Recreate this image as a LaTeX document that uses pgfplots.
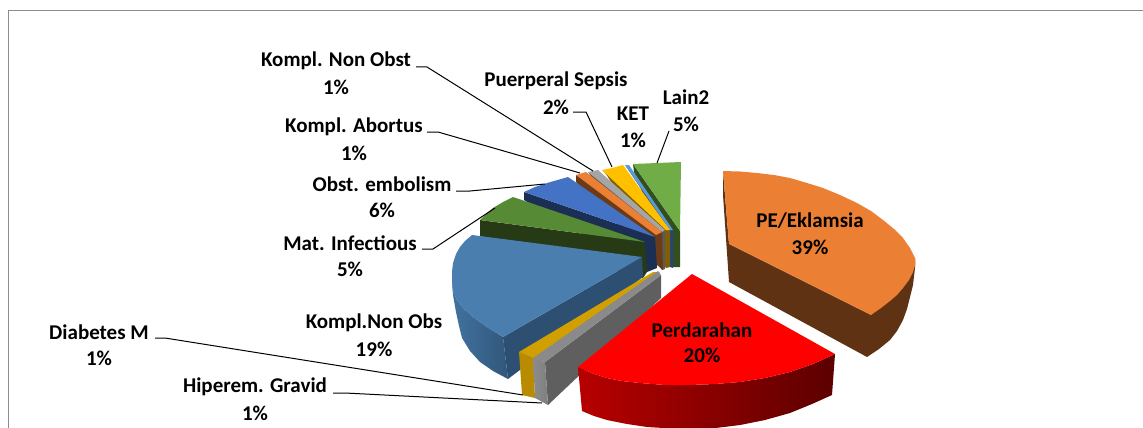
\documentclass[border=0pt]{standalone}
\usepackage{fontspec}
\setmainfont{Carlito}
\usepackage{pgfplots}
\pgfplotsset{compat=1.18}
\definecolor{peT}{HTML}{EB7F34}\definecolor{peS}{HTML}{5F3214}
\definecolor{grT}{HTML}{8A8A8A}\definecolor{grS}{HTML}{5F5F5F}\definecolor{grF}{HTML}{7F7F7F}
\definecolor{goT}{HTML}{D29F00}\definecolor{goF}{HTML}{B98B00}
\definecolor{blT}{HTML}{4A7EAE}\definecolor{blS}{HTML}{2D5072}\definecolor{blL}{HTML}{4272A0}
\definecolor{maT}{HTML}{568A35}\definecolor{maS}{HTML}{263A16}
\definecolor{obT}{HTML}{4472C4}\definecolor{obS}{HTML}{1B2F55}
\definecolor{abS}{HTML}{6B3A17}
\definecolor{nnT}{HTML}{A5A5A5}\definecolor{nnS}{HTML}{5A5A5A}
\definecolor{puT}{HTML}{FFC000}\definecolor{puS}{HTML}{7F6000}
\definecolor{keT}{HTML}{5B9BD5}\definecolor{keS}{HTML}{264478}
\definecolor{laT}{HTML}{70AD47}\definecolor{laS}{HTML}{334F20}
\definecolor{frameC}{HTML}{8C8C8C}
\newcommand\lab[3]{\node[font=\fontsize{21}{25}\selectfont\bfseries,align=center,inner sep=0pt] at (axis cs:#1,#2) {#3};}
\begin{document}
\begin{tikzpicture}
\begin{axis}[scale only axis,width=1143pt,height=428pt,xmin=0,xmax=1143,ymin=0,ymax=428,y dir=reverse,
 axis line style={draw=none},ticks=none,clip=true,
 every axis plot/.append style={draw=none,mark=none}]
% frame
\addplot[draw=frameC,line width=1pt] coordinates {(1143,10.5)(8.5,10.5)(8.5,428)};
% Lain2
\addplot[fill=laS] coordinates {(633,164)(634,172)(673,267)(680,267)(680,231)};
\addplot[fill=laT] coordinates {(633,164)(657,163)(681,162)(680,231)};
% KET
\addplot[fill=keS] coordinates {(625,165)(669,230)(670,267)(673,268)(673,230)};
\addplot[fill=keT] coordinates {(625,165)(629,165)(673,230)(670,230)};
% Puerperal
\addplot[fill=puS] coordinates {(602,170)(606,174)(666,268)(670,267)(670,230)};
\addplot[fill=puT] coordinates {(602,170)(612,168)(623,165)(670,230)(666,230)};
% Kompl Non Obst
\addplot[fill=nnS] coordinates {(588,172)(592,178)(662,270)(665,269)(665,230)};
\addplot[fill=nnT] coordinates {(588,172)(598,170)(665,230)(662,232)};
% Kompl Abortus
\addplot[fill=abS] coordinates {(576,175)(576,182)(657,265)(663,270)(662,232)};
\addplot[fill=peT] coordinates {(576,175)(586,172)(662,232)(656,235)};
% Obst embolism
\addplot[fill=obS] coordinates {(524,192)(524,200)(647,272)(657,268)(655,237)};
\addplot[fill=obT] coordinates {(524,192)(535,187)(547,183)(568,177)(655,237)};
% Mat Infectious
\addplot[fill=maS] coordinates {(480,220)(480,236)(643,278)(647,272)(645,242)};
\addplot[fill=maT] coordinates {(480,220)(486,214)(493,208)(503,202)(513,197)(645,242)};
% Kompl.Non Obs
\addplot[left color=blL,right color=blS!80!blL] coordinates {(452,272)(452,282)(453,295)(456,312)(459,326)(462,338)(470,351)(480,362)(493,371)(508,379)(503,337)(487,327)(473,317)(464,309)(457,300)(453,291)};
\addplot[fill=blS] coordinates {(503,337)(642,257)(643,277)(508,379)};
\addplot[fill=blT] coordinates {(472,235)(465,241)(460,247)(456,254)(453,263)(452,272)(452,282)(453,291)(457,300)(464,309)(473,317)(487,327)(503,337)(642,257)};
% Diabetes M
\addplot[fill=goF] coordinates {(519,352)(522,395)(535,398)(533,358)};
\addplot[fill=goT] coordinates {(519,352)(653,272)(660,272)(540,362)(533,358)};
% Hiperem Gravid
\addplot[fill=grS] coordinates {(545,362)(661,275)(661,298)(548,405)};
\addplot[left color=grF!90!white,right color=grF] coordinates {(533,358)(535,398)(548,405)(545,362)};
\addplot[fill=grT] coordinates {(533,358)(658,271)(661,275)(545,362)};
% Perdarahan
\addplot[left color=red!72!black,right color=red!36!black] coordinates {(578,367)(582,411)(594,416)(607,420)(627,424)(647,427)(680,429)(707,429)(724,427)(740,425)(765,420)(790,413)(812,404)(832,395)(835,354)(813,364)(790,372)(765,378)(740,382)(715,384)(690,385)(665,385)(640,383)(622,381)(607,378)(592,373)};
\addplot[fill=red] coordinates {(692,274)(578,367)(592,373)(607,378)(622,381)(640,383)(665,385)(690,385)(715,384)(740,382)(765,378)(790,372)(813,364)(835,354)};
% PE/Eklamsia
\addplot[fill=peS] coordinates {(723,171)(723,195)(729,282)(867,357)(879,349)(890,340)(897,331)(903,320)(907,309)(910,297)(913,285)(915,268)(915,258)(871,315)(729,244)};
\addplot[fill=peT] coordinates {(723,171)(740,171.5)(757,173)(774,175)(790,178)(807,183)(823,188)(840,195)(857,203)(871,211)(883,220)(894,229)(903,238)(910,248)(915,258)(915.5,264)(913,272)(909,280)(903,288)(897,295)(890,301)(881,308)(871,315)(729,244)};
% leader lines
\addplot[draw=black,line width=1pt] coordinates {(416,67)(427,67)(593,171)};
\addplot[draw=black,line width=1pt] coordinates {(427,132)(438,132)(580,173)};
\addplot[draw=black,line width=1pt] coordinates {(456,191)(470,191)(545,184)};
\addplot[draw=black,line width=1pt] coordinates {(422,249)(433,249)(495,208)};
\addplot[draw=black,line width=1pt] coordinates {(155,338)(165,338)(523,395)};
\addplot[draw=black,line width=1pt] coordinates {(333,393)(345,393)(542,403)};
\addplot[draw=black,line width=1pt] coordinates {(573,112)(586,112)(612,167)};
\addplot[draw=black,line width=1pt] coordinates {(669,131)(657,163)};
% labels
\lab{336}{61}{Kompl. Non Obst}\lab{336}{87}{1\%}
\lab{556}{81}{Puerperal Sepsis}\lab{556}{107}{2\%}
\lab{633}{114}{KET}\lab{633}{140}{1\%}
\lab{686}{97}{Lain2}\lab{686}{124}{5\%}
\lab{810}{221}{PE/Eklamsia}\lab{810}{247}{39\%}
\lab{702}{330}{Perdarahan}\lab{702}{355}{20\%}
\lab{354}{127}{Kompl. Abortus}\lab{354}{153}{1\%}
\lab{382}{184}{Obst. embolism}\lab{382}{210}{6\%}
\lab{350}{243}{Mat. Infectious}\lab{350}{269}{5\%}
\lab{374}{323}{Kompl.Non Obs}\lab{374}{349}{19\%}
\lab{99}{332}{Diabetes M}\lab{99}{358}{1\%}
\lab{255}{387}{Hiperem. Gravid}\lab{255}{413}{1\%}
\end{axis}
\end{tikzpicture}
\end{document}
